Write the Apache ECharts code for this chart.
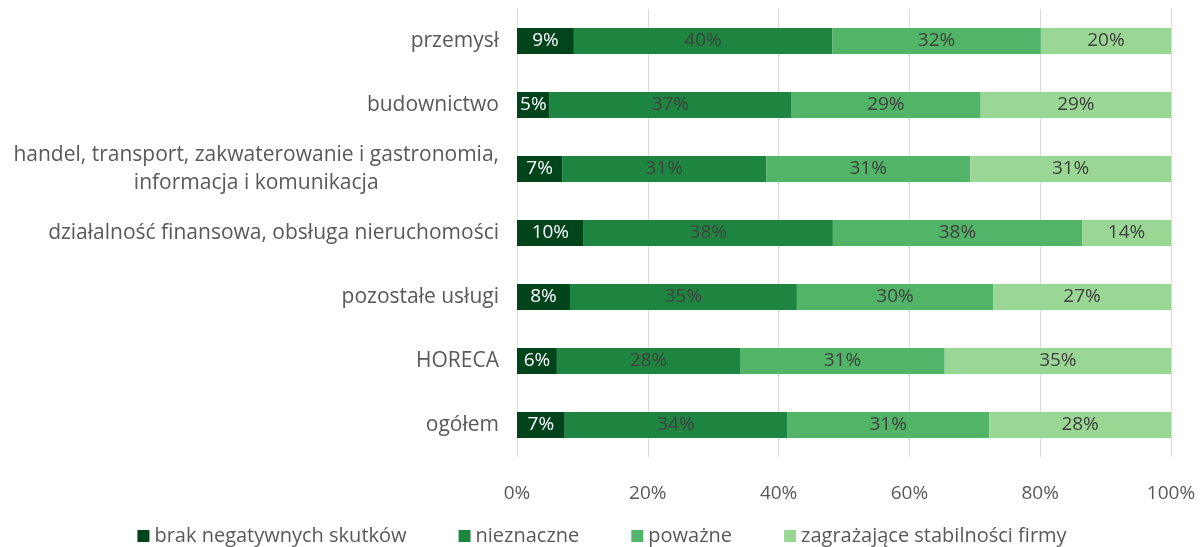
<!DOCTYPE html>
<html>
<head>
<meta charset="utf-8">
<script src="https://cdn.jsdelivr.net/npm/echarts@6/dist/echarts.min.js"></script>
<style>
  html, body { margin: 0; padding: 0; background: #fff; }
  #chart { width: 1204px; height: 547px; }
</style>
</head>
<body>
<div id="chart"></div>
<script>
var categories = [
    'przemysł',
    'budownictwo',
    'handel, transport, zakwaterowanie i gastronomia,\ninformacja i komunikacja',
    'działalność finansowa, obsługa nieruchomości',
    'pozostałe usługi',
    'HORECA',
    'ogółem'
];
var seriesNames = ['brak negatywnych skutków', 'nieznaczne', 'poważne', 'zagrażające stabilności firmy'];
var brak = [8.7, 5.0, 6.9, 10.2, 8.1, 6.1, 7.3];
var nieznaczne = [39.5, 36.9, 31.2, 38.1, 34.7, 28.0, 34.0];
var powazne = [31.9, 29.0, 31.2, 38.1, 30.0, 31.3, 30.9];
var zagrazajace = [19.9, 29.1, 30.7, 13.6, 27.2, 34.6, 27.8];
var xTicks = [0, 20, 40, 60, 80, 100];

var colors = ['#00441B', '#1E8540', '#52B466', '#9AD694'];
var labelColors = ['#ffffff', '#404040', '#404040', '#404040'];
var font = 'Open Sans';

var chart = echarts.init(document.getElementById('chart'));

function makeSeries(i, data) {
    return {
        name: seriesNames[i],
        type: 'bar',
        stack: 'total',
        barWidth: 26,
        data: data,
        itemStyle: { color: colors[i] },
        label: {
            show: true,
            position: 'inside',
            color: labelColors[i],
            fontFamily: font,
            fontSize: 19,
            formatter: function (p) {
                return Math.round(p.value) + '%';
            }
        }
    };
}

var option = {
    animation: false,
    color: colors,
    grid: { left: 517, right: 33, top: 9, bottom: 90, containLabel: false },
    legend: {
        data: seriesNames,
        left: 'center',
        top: 521,
        itemWidth: 12,
        itemHeight: 12,
        itemGap: 52,
        icon: 'rect',
        textStyle: { fontFamily: font, fontSize: 20, color: '#595959' }
    },
    xAxis: {
        type: 'value',
        min: xTicks[0],
        max: xTicks[xTicks.length - 1],
        interval: 20,
        axisLine: { show: false },
        axisTick: { show: false },
        axisLabel: {
            formatter: '{value}%',
            fontFamily: font,
            fontSize: 19,
            color: '#595959',
            margin: 27
        },
        splitLine: { lineStyle: { color: '#d9d9d9', width: 1 } }
    },
    yAxis: {
        type: 'category',
        inverse: true,
        data: categories,
        axisLine: { show: true, lineStyle: { color: '#d9d9d9' } },
        axisTick: { show: false },
        axisLabel: {
            margin: 18,
            fontFamily: font,
            fontSize: 21,
            color: '#595959',
            lineHeight: 28,
            formatter: function (v) {
                return v.split('\n').map(function (s) { return '{c|' + s + '}'; }).join('\n');
            },
            rich: {
                c: { align: 'center', fontFamily: font, fontSize: 21, color: '#595959', lineHeight: 28 }
            }
        }
    },
    series: [
        makeSeries(0, brak),
        makeSeries(1, nieznaczne),
        makeSeries(2, powazne),
        makeSeries(3, zagrazajace)
    ]
};

chart.setOption(option);
</script>
</body>
</html>
